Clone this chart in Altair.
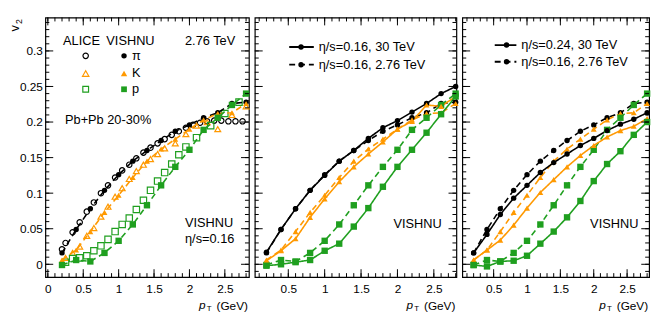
import altair as alt
import pandas as pd
import numpy as np

# ---------------- data ----------------
pt_vishnu = [0.2, 0.4, 0.6, 0.8, 1.0, 1.2, 1.4, 1.6, 1.8, 2.0, 2.2, 2.4, 2.6, 2.8]

# VISHNU eta/s=0.16, 2.76 TeV
v2_pi_276 = [0.016, 0.049, 0.078, 0.104, 0.126, 0.145, 0.160, 0.174, 0.187, 0.196, 0.206, 0.213, 0.226, 0.228]
v2_k_276 = [0.006, 0.020, 0.046, 0.073, 0.097, 0.122, 0.145, 0.162, 0.176, 0.190, 0.203, 0.212, 0.213, 0.226]
v2_p_276 = [-0.001, 0.006, 0.004, 0.016, 0.033, 0.056, 0.083, 0.111, 0.137, 0.161, 0.189, 0.206, 0.224, 0.240]

# VISHNU eta/s=0.16, 30 TeV
v2_pi_30a = [0.017, 0.049, 0.078, 0.104, 0.125, 0.145, 0.160, 0.177, 0.192, 0.202, 0.214, 0.226, 0.240, 0.250]
v2_k_30a = [0.005, 0.019, 0.036, 0.066, 0.092, 0.116, 0.137, 0.155, 0.172, 0.190, 0.201, 0.224, 0.222, 0.236]
v2_p_30a = [-0.002, 0.000, 0.003, 0.006, 0.019, 0.029, 0.053, 0.079, 0.109, 0.137, 0.161, 0.185, 0.211, 0.236]

# VISHNU eta/s=0.24, 30 TeV
v2_pi_30b = [0.016, 0.042, 0.070, 0.093, 0.111, 0.129, 0.143, 0.155, 0.167, 0.177, 0.188, 0.197, 0.204, 0.213]
v2_k_30b = [0.006, 0.020, 0.034, 0.055, 0.079, 0.101, 0.119, 0.137, 0.153, 0.167, 0.179, 0.188, 0.194, 0.205]
v2_p_30b = [-0.001, -0.003, 0.004, 0.005, 0.012, 0.029, 0.046, 0.066, 0.089, 0.117, 0.141, 0.159, 0.182, 0.200]

# ALICE Pb+Pb 20-30%
pt_alice_pi = [0.2, 0.25, 0.35, 0.45, 0.55, 0.65, 0.75, 0.85, 0.95, 1.05, 1.15, 1.25, 1.35, 1.45,
               1.55, 1.65, 1.75, 1.85, 1.95, 2.05, 2.15, 2.25, 2.35, 2.45, 2.55, 2.65, 2.75]
v2_alice_pi = [0.021, 0.030, 0.045, 0.059, 0.074, 0.087, 0.100, 0.111, 0.122, 0.132, 0.140, 0.149, 0.157, 0.164,
               0.170, 0.176, 0.182, 0.187, 0.192, 0.196, 0.199, 0.201, 0.202, 0.202, 0.201, 0.201, 0.201]
pt_alice_k = [0.25, 0.35, 0.45, 0.55, 0.65, 0.75, 0.85, 0.95, 1.05, 1.15, 1.25, 1.35, 1.45, 1.55, 1.65,
              1.8, 1.95, 2.1, 2.25, 2.4, 2.6, 2.8]
v2_alice_k = [0.009, 0.016, 0.025, 0.040, 0.051, 0.067, 0.081, 0.095, 0.107, 0.120, 0.131, 0.140, 0.148, 0.155, 0.163,
              0.170, 0.183, 0.195, 0.200, 0.190, 0.210, 0.222]
pt_alice_p = [0.25, 0.35, 0.45, 0.55, 0.65, 0.75, 0.85, 0.95, 1.05, 1.15, 1.25, 1.35, 1.45, 1.55, 1.65,
              1.75, 1.85, 1.95, 2.1, 2.3, 2.5, 2.7]
v2_alice_p = [0.003, 0.008, 0.009, 0.012, 0.019, 0.026, 0.035, 0.046, 0.056, 0.065, 0.077, 0.090, 0.104, 0.117, 0.129,
              0.141, 0.154, 0.165, 0.178, 0.195, 0.212, 0.228]

x_labels_left = [0, 0.5, 1, 1.5, 2, 2.5]
x_labels_other = [0.5, 1, 1.5, 2, 2.5]
y_labels = [0, 0.05, 0.1, 0.15, 0.2, 0.25, 0.3]

# ---------------- style ----------------
BLACK = "#000000"
ORANGE = "#FF9900"
GREEN = "#1F9F1F"
FONT = "Liberation Sans"
H = 264
Y_DOM = [-0.018, 0.347]
SPECIES = ["pi", "K", "p"]
color_scale = alt.Scale(domain=SPECIES, range=[BLACK, ORANGE, GREEN])
shape_scale = alt.Scale(domain=SPECIES, range=["circle", "triangle-up", "square"])
size_scale = alt.Scale(domain=SPECIES, range=[30, 42, 34])
dash_scale = alt.Scale(domain=["solid", "dashed"], range=[[1, 0], [6, 4]])


def curves_df(items):
    rows = []
    for name, sp, style, xs, ys in items:
        for x, y in zip(xs, ys):
            rows.append({"curve": name, "sp": sp, "style": style, "pT": x, "v2": y})
    return pd.DataFrame(rows)


def one():
    return pd.DataFrame({"a": [0]})


def text(x, y, s, size=13, align="left", angle=0, italic=False):
    kw = {}
    if italic:
        kw["fontStyle"] = "italic"
    return alt.Chart(one()).mark_text(font=FONT, fontSize=size, align=align, baseline="middle",
                                       angle=angle, color="black", **kw).encode(
        x=alt.value(x), y=alt.value(y), text=alt.value(s))


def marker(x, y, shape, color, filled, size):
    return alt.Chart(one()).mark_point(filled=filled, shape=shape, size=size, color=color,
                                        opacity=1, strokeWidth=1.2).encode(x=alt.value(x), y=alt.value(y))


def seg(x1, x2, y, dash):
    return alt.Chart(one()).mark_rule(color="black", strokeWidth=1.8, strokeDash=dash).encode(
        x=alt.value(x1), x2=alt.value(x2), y=alt.value(y))


def panel(W, xdom, items, xlabels, left=False, alice=None, extras=()):
    xs = alt.Scale(domain=xdom, nice=False, zero=False)
    ys = alt.Scale(domain=Y_DOM, nice=False, zero=False)
    xaxis = alt.Axis(values=xlabels, format="~g", ticks=False, domain=False, grid=False,
                     labelFont=FONT, labelFontSize=12, labelColor="black", labelPadding=7,
                     labelFlush=False, title=None)
    yaxis = alt.Axis(values=y_labels if left else [], format="~g", ticks=False, domain=False, grid=False,
                     labels=left, labelFont=FONT, labelFontSize=12, labelColor="black", labelPadding=3,
                     labelFlush=False, title=None)

    def X(f):
        return alt.X(f, scale=xs, axis=xaxis)

    def Y(f):
        return alt.Y(f, scale=ys, axis=yaxis)

    df = curves_df(items)
    lines = alt.Chart(df).mark_line(strokeWidth=1.6).encode(
        x=X("pT:Q"), y=Y("v2:Q"),
        color=alt.Color("sp:N", scale=color_scale, legend=None),
        strokeDash=alt.StrokeDash("style:N", scale=dash_scale, legend=None),
        detail="curve:N",
    )
    pts = alt.Chart(df).mark_point(filled=True, opacity=1).encode(
        x=X("pT:Q"), y=Y("v2:Q"),
        color=alt.Color("sp:N", scale=color_scale, legend=None),
        shape=alt.Shape("sp:N", scale=shape_scale, legend=None),
        size=alt.Size("sp:N", scale=size_scale, legend=None),
    )
    layers = [lines, pts]
    if alice is not None:
        adf = curves_df(alice)
        layers.insert(0, alt.Chart(adf).mark_point(filled=False, opacity=1, strokeWidth=1.2).encode(
            x=X("pT:Q"), y=Y("v2:Q"),
            color=alt.Color("sp:N", scale=color_scale, legend=None),
            shape=alt.Shape("sp:N", scale=shape_scale, legend=None),
            size=alt.Size("sp:N", scale=size_scale, legend=None),
        ))
    # inward ticks
    xminor = [round(v, 2) for v in np.arange(0, 3.0, 0.1) if xdom[0] <= v <= xdom[1]]
    xmajor = [v for v in [0, 0.5, 1.0, 1.5, 2.0, 2.5] if xdom[0] <= v <= xdom[1]]
    yminor = [round(v, 3) for v in np.arange(-0.01, 0.35, 0.01) if Y_DOM[0] <= v <= Y_DOM[1]]
    ymajor = [0, 0.05, 0.1, 0.15, 0.2, 0.25, 0.3]
    for vals, ln in ((xminor, 4), (xmajor, 8)):
        b = alt.Chart(pd.DataFrame({"t": vals}))
        layers.append(b.mark_rule(color="black", strokeWidth=1).encode(
            x=X("t:Q"), y=alt.value(H), y2=alt.value(H - ln)))
        layers.append(b.mark_rule(color="black", strokeWidth=1).encode(
            x=X("t:Q"), y=alt.value(0), y2=alt.value(ln)))
    for vals, ln in ((yminor, 4), (ymajor, 8)):
        b = alt.Chart(pd.DataFrame({"t": vals}))
        layers.append(b.mark_rule(color="black", strokeWidth=1).encode(
            y=Y("t:Q"), x=alt.value(0), x2=alt.value(ln)))
        layers.append(b.mark_rule(color="black", strokeWidth=1).encode(
            y=Y("t:Q"), x=alt.value(W), x2=alt.value(W - ln)))
    # x title: p_T (GeV)
    layers.append(text(W - 1, H + 29, "(GeV)", size=12, align="right"))
    layers.append(text(W - 38, H + 32, "T", size=8, align="right"))
    layers.append(text(W - 44, H + 28, "p", size=12, align="right", italic=True))
    layers.extend(extras)
    return alt.layer(*layers).properties(width=W, height=H)


left_items = [
    ("pi276", "pi", "dashed", pt_vishnu, v2_pi_276),
    ("k276", "K", "dashed", pt_vishnu, v2_k_276),
    ("p276", "p", "dashed", pt_vishnu, v2_p_276),
]
alice_items = [
    ("api", "pi", "o", pt_alice_pi, v2_alice_pi),
    ("ak", "K", "o", pt_alice_k, v2_alice_k),
    ("ap", "p", "o", pt_alice_p, v2_alice_p),
]
mid_items = left_items + [
    ("pi30", "pi", "solid", pt_vishnu, v2_pi_30a),
    ("k30", "K", "solid", pt_vishnu, v2_k_30a),
    ("p30", "p", "solid", pt_vishnu, v2_p_30a),
]
right_items = left_items + [
    ("pi30", "pi", "solid", pt_vishnu, v2_pi_30b),
    ("k30", "K", "solid", pt_vishnu, v2_k_30b),
    ("p30", "p", "solid", pt_vishnu, v2_p_30b),
]

left_extras = [
    text(18, 24, "ALICE"), text(62, 24, "VISHNU"), text(142, 24, "2.76 TeV"),
    marker(41, 39, "circle", BLACK, False, 30), marker(80, 39, "circle", BLACK, True, 30), text(88, 39, "π"),
    marker(41, 57, "triangle-up", ORANGE, False, 42), marker(80, 57, "triangle-up", ORANGE, True, 42), text(88, 57, "K"),
    marker(41, 73, "square", GREEN, False, 34), marker(80, 73, "square", GREEN, True, 34), text(88, 73, "p"),
    text(20, 104, "Pb+Pb 20-30%"),
    text(142, 209, "VISHNU"), text(142, 225, "η/s=0.16"),
    text(-31, 11, "v", size=13, align="center", angle=270),
    text(-27, 4, "2", size=9, align="center", angle=270),
]
mid_extras = [
    seg(35, 60, 30, [1, 0]), marker(47, 30, "circle", BLACK, True, 30), text(65, 30, "η/s=0.16, 30 TeV"),
    seg(35, 60, 48, [6, 4]), marker(47, 48, "circle", BLACK, True, 30), text(65, 48, "η/s=0.16, 2.76 TeV"),
    text(141, 210, "VISHNU"),
]
right_extras = [
    seg(33, 55, 28, [1, 0]), marker(45, 28, "circle", BLACK, True, 30), text(60, 28, "η/s=0.24, 30 TeV"),
    seg(33, 55, 45, [6, 4]), marker(45, 45, "circle", BLACK, True, 30), text(60, 45, "η/s=0.16, 2.76 TeV"),
    text(130, 210, "VISHNU"),
]

p1 = panel(207, [-0.035, 2.84], left_items, x_labels_left, left=True, alice=alice_items, extras=left_extras)
p2 = panel(205, [0.04, 2.81], mid_items, x_labels_other, extras=mid_extras)
p3 = panel(190, [0.03, 2.83], right_items, x_labels_other, extras=right_extras)

chart = alt.hconcat(p1, p2, p3, spacing=0).properties(
    padding={"left": 0, "top": 5, "right": 5, "bottom": 5}
).configure_view(stroke="black", strokeWidth=1.2)

chart.save("out.html", embed_options={"renderer": "svg", "actions": False})
